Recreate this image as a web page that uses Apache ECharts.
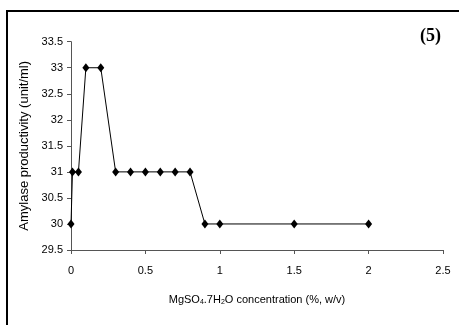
<!DOCTYPE html>
<html>
<head>
<meta charset="utf-8">
<script src="https://cdn.jsdelivr.net/npm/echarts@6/dist/echarts.min.js"></script>
<style>html,body{margin:0;padding:0;background:#fff}#c{width:459px;height:325px}</style>
</head>
<body>
<div id="c"></div>
<script>
var xValues = [0, 0.01, 0.05, 0.1, 0.2, 0.3, 0.4, 0.5, 0.6, 0.7, 0.8, 0.9, 1.0, 1.5, 2.0];
var yValues = [30, 31, 31, 33, 33, 31, 31, 31, 31, 31, 31, 30, 30, 30, 30];
var yTicks = ['29.5','30','30.5','31','31.5','32','32.5','33','33.5'];
var xTicks = ['0','0.5','1','1.5','2','2.5'];
var yTitle = 'Amylase productivity (unit/ml)';
var xTitle = 'MgSO{s|4}.7H{s|2}O concentration (%, w/v)';
var panelLabel = '(5)';

var chart = echarts.init(document.getElementById('c'), null, {renderer: 'canvas'});
var data = xValues.map(function (x, i) { return [x, yValues[i]]; });
var font = '"Liberation Sans", Arial, sans-serif';
chart.setOption({
  animation: false,
  backgroundColor: '#fff',
  grid: {left: 71, right: 16, top: 41.7, bottom: 75},
  xAxis: {
    type: 'value', min: 0, max: 2.5, interval: 0.5,
    axisLine: {lineStyle: {color: '#555', width: 1}},
    axisTick: {show: true, length: 4, lineStyle: {color: '#555'}},
    splitLine: {show: false},
    axisLabel: {color: '#000', fontFamily: font, fontSize: 11, margin: 15,
      formatter: function (v) { var s = String(+v.toFixed(1)); return xTicks.indexOf(s) >= 0 ? s : ''; }},
    name: xTitle, nameLocation: 'middle', nameGap: 43,
    nameTextStyle: {color: '#000', fontFamily: font, fontSize: 11,
      rich: {s: {fontSize: 7, verticalAlign: 'bottom', padding: [6, 0, 0, 0], color: '#000', fontFamily: font}}}
  },
  yAxis: {
    type: 'value', min: 29.5, max: 33.5, interval: 0.5,
    axisLine: {show: true, lineStyle: {color: '#555', width: 1}},
    axisTick: {show: true, length: 4, lineStyle: {color: '#555'}},
    splitLine: {show: false},
    axisLabel: {color: '#000', fontFamily: font, fontSize: 11, margin: 8,
      formatter: function (v) { var s = String(+v.toFixed(1)); return yTicks.indexOf(s) >= 0 ? s : ''; }},
    name: yTitle, nameLocation: 'middle', nameGap: 34, nameRotate: 90,
    nameTextStyle: {color: '#000', fontFamily: font, fontSize: 13}
  },
  series: [{
    type: 'line', data: data,
    symbol: 'diamond', symbolSize: [7, 9],
    lineStyle: {color: '#000', width: 1},
    itemStyle: {color: '#000'}
  }],
  graphic: [
    {type: 'rect', shape: {x: 7, y: 11, width: 470, height: 340},
     style: {fill: 'none', stroke: '#000', lineWidth: 2}, silent: true},
    {type: 'text', left: 420, top: 27,
     style: {text: panelLabel, font: 'bold 18px "Liberation Serif", "Times New Roman", serif', fill: '#000'}}
  ]
});
</script>
</body>
</html>
